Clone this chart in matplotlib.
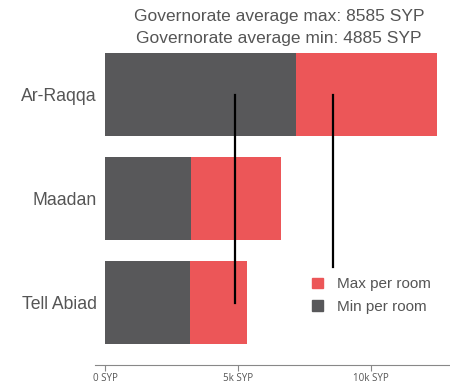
import matplotlib.pyplot as plt
from matplotlib.patches import Patch

areas = ["Ar-Raqqa", "Maadan", "Tell Abiad"]
min_per_room = [7170, 3230, 3200]
max_per_room = [12500, 6620, 5330]
avg_min = 4885
avg_max = 8585

red = "#ec5658"
dark = "#58585a"
grey = "#555555"

plt.rcParams["font.family"] = ["Liberation Sans", "DejaVu Sans"]

fig = plt.figure(figsize=(4.5, 3.86), dpi=100)
ax = fig.add_axes([95 / 450, 21 / 386, 355 / 450, 322 / 386])

pos = list(range(len(areas)))
# max drawn first, min on top of it
ax.barh(pos, max_per_room, height=0.8, color=red)
ax.barh(pos, min_per_room, height=0.8, color=dark)

# governorate averages as vertical markers
ax.plot([avg_min, avg_min], [0, 2], color="black", lw=1.6)
ax.plot([avg_max, avg_max], [0, 1.66], color="black", lw=1.6)

ax.set_xlim(-376, 12970)
ax.set_ylim(2.6, -0.5)

ax.set_yticks(pos)
ax.set_yticklabels(areas, fontsize=12.7, color=grey)
ax.tick_params(axis="y", length=0, pad=-1.5)

ax.set_xticks([0, 5000, 10000])
ax.set_xticklabels(["0 SYP", "5k SYP", "10k SYP"], fontsize=7, color=grey,
                   family=["Open Sans", "DejaVu Sans"])
ax.tick_params(axis="x", length=4, color="#888888", pad=2)

for s in ["top", "right", "left"]:
    ax.spines[s].set_visible(False)
ax.spines["bottom"].set_color("#888888")

fig.text(279 / 450, 1 - 16 / 386, "Governorate average max: %d SYP" % avg_max,
         ha="center", va="center", fontsize=12.5, color=grey)
fig.text(279 / 450, 1 - 38 / 386, "Governorate average min: %d SYP" % avg_min,
         ha="center", va="center", fontsize=12.5, color=grey)

handles = [Patch(color=red, label="Max per room"), Patch(color=dark, label="Min per room")]
ax.legend(handles=handles, loc="upper left", bbox_to_anchor=(0.572, 0.315),
          frameon=False, fontsize=11, labelcolor=grey,
          handlelength=0.72, handleheight=0.72, handletextpad=0.9, labelspacing=0.55)

fig.savefig("out.png", dpi=100)
